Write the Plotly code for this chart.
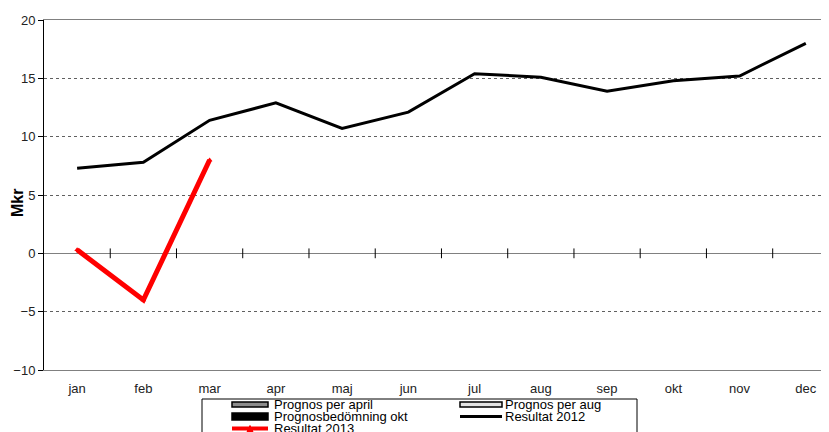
import plotly.graph_objects as go

months = ['jan', 'feb', 'mar', 'apr', 'maj', 'jun', 'jul', 'aug', 'sep', 'okt', 'nov', 'dec']
res_2012 = [7.3, 7.8, 11.4, 12.9, 10.7, 12.1, 15.4, 15.1, 13.9, 14.8, 15.2, 18.0]
res_2013 = [0.3, -4.0, 8.0]
tick_pos = [0.5, 1.5, 2.5, 3.5, 4.5, 5.5, 6.5, 7.5, 8.5, 9.5, 10.5]
legend_names = ['Prognos per april', 'Prognos per aug', 'Prognosbedömning okt',
                'Resultat 2012', 'Resultat 2013']

x = list(range(len(months)))
font = "Liberation Sans, Arial, sans-serif"

# page body has an 8px margin, so work in screen pixels minus 8
OFF = 8
L, R, T, B = 44 - OFF, 829 - OFF, 20 - OFF, 370 - OFF


def px(v):
    return (v - OFF - L) / (R - L)


def py(v):
    return (B - (v - OFF)) / (B - T)


fig = go.Figure()

fig.add_trace(go.Scatter(x=x, y=res_2012, mode='lines', name='Resultat 2012',
                         line=dict(color='black', width=3), showlegend=False))
fig.add_trace(go.Scatter(x=x[:3], y=res_2013, mode='lines+markers', name='Resultat 2013',
                         line=dict(color='#ff0000', width=5), showlegend=False,
                         marker=dict(symbol='triangle-up', size=5, color='#ff0000')))

# small tick marks on the zero line between months
fig.add_trace(go.Scatter(x=tick_pos, y=[0] * len(tick_pos), mode='markers', showlegend=False,
                         hoverinfo='skip',
                         marker=dict(symbol='line-ns', size=7,
                                     line=dict(color='black', width=1))))

fig.add_annotation(text='<b>Mkr</b>', x=px(17), y=py(203), xref='paper', yref='paper',
                   xanchor='center', yanchor='middle',
                   showarrow=False, textangle=-90,
                   font=dict(size=16, color='black', family=font))

# legend drawn by hand (Excel style, tight rows)
shapes = [dict(type='rect', xref='paper', yref='paper', x0=px(202), x1=px(637),
               y0=py(399), y1=py(470), line=dict(color='black', width=1),
               fillcolor='white', layer='above')]
entries = [(232, 404.5), (460, 404.5), (232, 416.5), (460, 416.5), (232, 428.5)]
styles = ['box_gray', 'box_light', 'box_black', 'line_black', 'line_red']
for name, (ex, ey), st in zip(legend_names, entries, styles):
    x1 = ex + 36 if ex < 400 else ex + 42
    if st.startswith('box'):
        fill = {'box_gray': '#8c8c8c', 'box_light': '#e4e4e4', 'box_black': 'black'}[st]
        h = 3.5 if st == 'box_black' else 2.5
        shapes.append(dict(type='rect', xref='paper', yref='paper',
                           x0=px(ex), x1=px(x1), y0=py(ey - h), y1=py(ey + h),
                           fillcolor=fill, line=dict(color='black', width=1.5),
                           layer='above'))
    else:
        col = 'black' if st == 'line_black' else '#ff0000'
        w = 3 if st == 'line_black' else 4
        shapes.append(dict(type='line', xref='paper', yref='paper',
                           x0=px(ex), x1=px(x1), y0=py(ey), y1=py(ey),
                           line=dict(color=col, width=w), layer='above'))
        if st == 'line_red':
            shapes.append(dict(type='path', xref='paper', yref='paper', layer='above',
                               path='M {} {} L {} {} L {} {} Z'.format(
                                   px(ex + 15), py(ey + 3), px(ex + 21), py(ey + 3),
                                   px(ex + 18), py(ey - 3)),
                               fillcolor='#ff0000', line=dict(color='#ff0000', width=1)))
    tx = ex + 40 if ex < 400 else ex + 43
    fig.add_annotation(text=name, x=px(tx), y=py(ey), xref='paper', yref='paper',
                       xanchor='left', yanchor='middle', showarrow=False,
                       font=dict(size=13, color='black', family=font))

fig.update_xaxes(range=[-0.5, 11.35], tickvals=x, ticktext=months, ticks='',
                 showgrid=False, zeroline=False, showline=True, mirror=True,
                 linecolor='#808080', linewidth=1, ticklabelstandoff=6,
                 tickfont=dict(size=13, color='#222222', family=font))
fig.update_yaxes(range=[-10, 20], dtick=5, ticks='outside', ticklen=5, tickcolor='black',
                 showline=True, linecolor='black', linewidth=1,
                 showgrid=True, gridcolor='#606060', griddash='dot', gridwidth=1,
                 zeroline=True, zerolinecolor='#808080', zerolinewidth=1,
                 tickfont=dict(size=13, color='#222222', family=font))

fig.update_layout(width=829, height=432,
                  margin=dict(l=L, r=829 - R, t=T, b=432 - B, autoexpand=False),
                  plot_bgcolor='white', paper_bgcolor='white',
                  font=dict(family=font, size=13, color='black'),
                  showlegend=False, shapes=shapes)

fig.write_html("out.html")
